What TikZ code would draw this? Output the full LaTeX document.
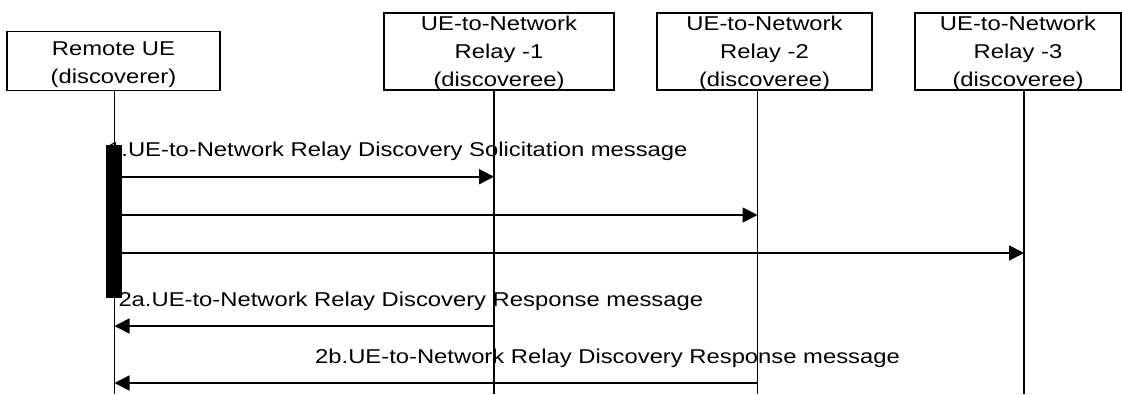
\documentclass[tikz,border=0pt]{standalone}
\usepackage{fontspec}
\setmainfont{Liberation Sans}
\usetikzlibrary{arrows.meta}
\newcommand{\wideText}[1]{\scalebox{1.19}[1]{#1}}
\newcommand{\stackText}[1]{\wideText{\begin{tabular}[t]{@{}c@{}}#1\end{tabular}}}
\begin{document}
\begin{tikzpicture}[x=1pt,y=-1pt,
  actor/.style={draw, line width=1.6pt, inner sep=0pt, fill=none},
  txt/.style={inner sep=0pt, font=\fontsize{20}{28}\selectfont, anchor=base},
  lbl/.style={inner sep=0pt, font=\fontsize{20}{28}\selectfont, anchor=base west},
  life/.style={line width=1.3pt},
  msg/.style={line width=1.8pt, -{Triangle[length=15pt,width=15pt]}},
]
\useasboundingbox (0,0) rectangle (1122,394);
% actor boxes
\node[actor, minimum width=213pt, minimum height=59pt] (ue) at (113.5,61) {};
\node[actor, minimum width=230pt, minimum height=77pt] (r1) at (499,51.5) {};
\node[actor, minimum width=215pt, minimum height=77pt] (r2) at (764.5,51.5) {};
\node[actor, minimum width=206pt, minimum height=77pt] (r3) at (1018,51.5) {};
% actor texts
\node[txt] (ueT) at (113.5,55.5) {\stackText{Remote UE\\(discoverer)}};
\node[txt] (r1T) at (499,30.5) {\stackText{UE-to-Network\\Relay -1\\(discoveree)}};
\node[txt] (r2T) at (764.5,30.5) {\stackText{UE-to-Network\\Relay -2\\(discoveree)}};
\node[txt] (r3T) at (1018,30.5) {\stackText{UE-to-Network\\Relay -3\\(discoveree)}};
% lifelines
\coordinate (l0) at (114.5,394);
\coordinate (l1) at (494,394);
\coordinate (l2) at (757.5,394);
\coordinate (l3) at (1024,394);
\draw[life] (l0 |- ue.south) -- (l0);
\draw[life] (l1 |- r1.south) -- (l1);
\draw[life] (l2 |- r2.south) -- (l2);
\draw[life] (l3 |- r3.south) -- (l3);
% message labels
\node[lbl] (m1L) at (108,156.7) {\wideText{1.UE-to-Network Relay Discovery Solicitation message}};
\node[lbl] (m2aL) at (118.3,306) {\wideText{2a.UE-to-Network Relay Discovery Response message}};
\node[lbl] (m2bL) at (315,363) {\wideText{2b.UE-to-Network Relay Discovery Response message}};
% activation bar
\node[fill=black, inner sep=0pt, minimum width=15.5pt, minimum height=153pt] (act) at (114,221.5) {};
% message rows
\coordinate (y1) at (0,176.7);
\coordinate (y2) at (0,215);
\coordinate (y3) at (0,253);
\coordinate (y4) at (0,326);
\coordinate (y5) at (0,383);
\draw[msg] (act.east |- y1) -- (l1 |- y1);
\draw[msg] (act.east |- y2) -- (l2 |- y2);
\draw[msg] (act.east |- y3) -- (l3 |- y3);
\draw[msg] (l1 |- y4) -- (l0 |- y4);
\draw[msg] (l2 |- y5) -- (l0 |- y5);
\end{tikzpicture}
\end{document}
